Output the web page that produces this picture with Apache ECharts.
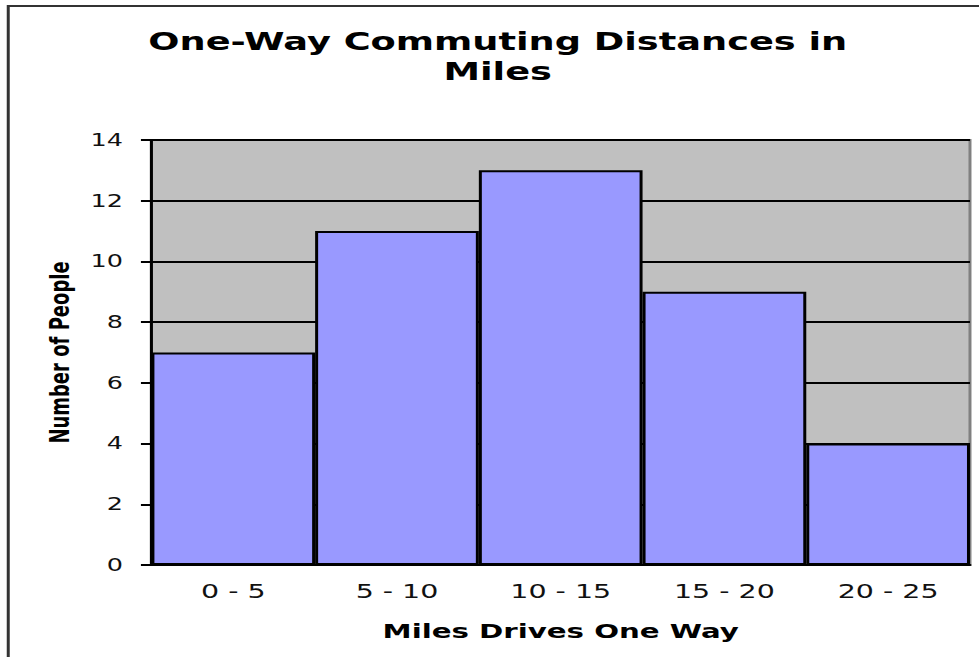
<!DOCTYPE html>
<html lang="en">

<head>
    <meta charset="UTF-8">
    <title>One-Way Commuting Distances in Miles</title>
    <style>
        html, body {
            margin: 0;
            padding: 0;
            background: #fff;
            overflow: hidden;
        }

        /* the original picture is stretched sideways, so the chart is drawn narrow and widened */
        #chart {
            width: 653px;
            height: 657px;
            transform: scaleX(1.4992);
            transform-origin: 0 0;
        }
    </style>
</head>

<body>

    <div id='chart'></div>

    <script src="https://cdn.jsdelivr.net/npm/echarts@6/dist/echarts.min.js"></script>
    <script>
        const categories = ['0 - 5', '5 - 10', '10 - 15', '15 - 20', '20 - 25']
        const people = [7, 11, 13, 9, 4]
        const titleText = 'One-Way Commuting Distances in\nMiles'
        const xName = 'Miles Drives One Way'
        const yName = 'Number of People'

        const font = 'DejaVu Sans'

        const chartEl = document.querySelector('#chart')
        const myChart = echarts.init(chartEl, null, { renderer: 'svg' })
        const option = {
            backgroundColor: '#fff',
            animation: false,
            title: {
                text: titleText,
                left: 332,
                top: 26,
                padding: 0,
                textAlign: 'center',
                textStyle: {
                    fontFamily: font,
                    fontWeight: 'bold',
                    fontSize: 24.5,
                    lineHeight: 30,
                    color: '#000'
                }
            },
            // outer frame, cut off on the right and bottom like the source
            graphic: [{
                type: 'rect',
                shape: { x: 5.5, y: 6, width: 800, height: 800 },
                style: { fill: 'none', stroke: '#333', lineWidth: 2 },
                silent: true
            }],
            grid: {
                left: 101,
                right: 6,
                top: 140,
                bottom: 92,
                show: true,
                backgroundColor: '#c0c0c0',
                borderColor: '#808080',
                borderWidth: 2
            },
            xAxis: {
                type: 'category',
                data: categories,
                z: 3,
                name: xName,
                nameLocation: 'middle',
                nameGap: 56,
                nameTextStyle: {
                    fontFamily: font,
                    fontWeight: 'bold',
                    fontSize: 19.5,
                    color: '#000'
                },
                axisLine: { lineStyle: { color: '#000', width: 2 } },
                axisTick: {
                    alignWithLabel: true,
                    inside: true,
                    length: 3,
                    lineStyle: { color: '#000', width: 2 }
                },
                axisLabel: {
                    margin: 17,
                    fontFamily: font,
                    fontSize: 19,
                    color: '#111'
                }
            },
            yAxis: {
                type: 'value',
                min: 0,
                max: 14,
                interval: 2,
                name: yName,
                nameLocation: 'middle',
                nameGap: 52,
                nameTextStyle: {
                    fontFamily: font,
                    fontWeight: 'bold',
                    fontSize: 18,
                    color: '#000'
                },
                axisLine: { show: true, lineStyle: { color: '#000', width: 2 } },
                axisTick: { show: true, length: 7, lineStyle: { color: '#000', width: 2 } },
                axisLabel: {
                    margin: 19,
                    fontFamily: font,
                    fontSize: 17,
                    color: '#111'
                },
                splitLine: { lineStyle: { color: '#000', width: 2 } }
            },
            series: [{
                type: 'bar',
                data: people,
                barCategoryGap: '0%',
                itemStyle: {
                    color: '#9999ff',
                    borderColor: '#000',
                    borderWidth: 2
                }
            }]
        }

        myChart.setOption(option)
    </script>
</body>

</html>
